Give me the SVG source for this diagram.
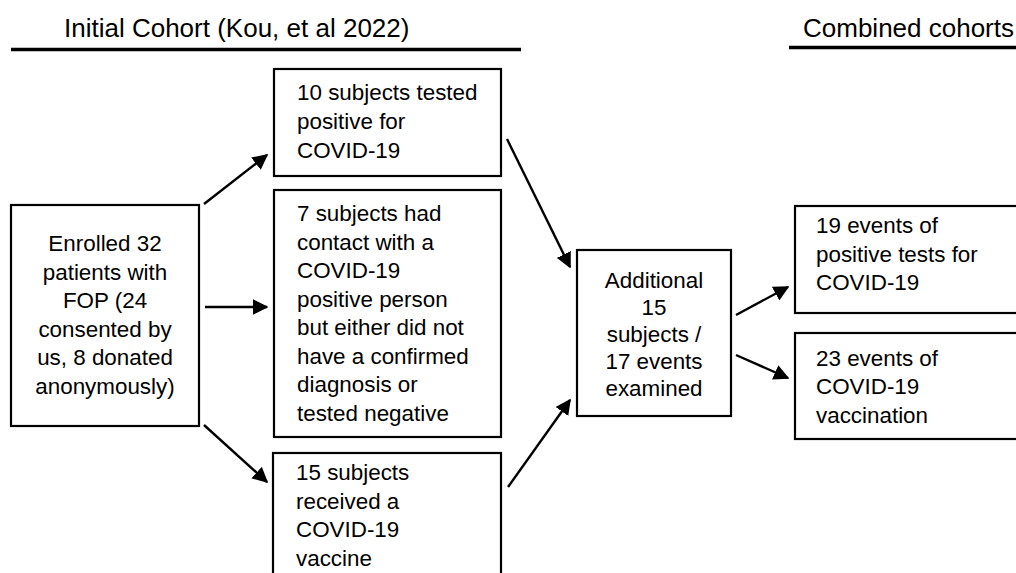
<svg xmlns="http://www.w3.org/2000/svg" width="1016" height="573" viewBox="0 0 1016 573">
<style>
.box{fill:#fff;stroke:#000;stroke-width:2.2}
.t{font-family:"Liberation Sans",Arial,sans-serif;font-size:22.4px;fill:#000}
.c{text-anchor:middle}
.h{font-family:"Liberation Sans",Arial,sans-serif;font-size:26px;fill:#000}
.rule{stroke:#000;stroke-width:3.5}
.arr{stroke:#000;stroke-width:2.4;fill:none;marker-end:url(#ah)}
</style>
<defs>
<marker id="ah" viewBox="0 0 10 10" refX="9" refY="5" markerWidth="6.5" markerHeight="6.5" markerUnits="strokeWidth" orient="auto">
<path d="M0,0 L10,5 L0,10 z" fill="#000"/>
</marker>
</defs>
<rect width="1016" height="573" fill="#fff"/>
<g id="headers">
<text class="h" x="64" y="37">Initial Cohort (Kou, et al 2022)</text>
<line class="rule" x1="11" y1="49.5" x2="521" y2="49.5"/>
<text class="h" x="803" y="37">Combined cohorts</text>
<line class="rule" x1="789" y1="47.5" x2="1016" y2="47.5"/>
</g>
<g id="enrolled">
<rect class="box" x="11" y="205" width="188" height="221"/>
<text class="t c" x="105" y="251">Enrolled 32</text>
<text class="t c" x="105" y="280">patients with</text>
<text class="t c" x="105" y="308">FOP (24</text>
<text class="t c" x="105" y="337">consented by</text>
<text class="t c" x="105" y="365">us, 8 donated</text>
<text class="t c" x="105" y="394">anonymously)</text>
</g>
<g id="tested-positive">
<rect class="box" x="274" y="69" width="227" height="107"/>
<text class="t" x="297" y="100">10 subjects tested</text>
<text class="t" x="297" y="129">positive for</text>
<text class="t" x="297" y="158">COVID-19</text>
</g>
<g id="contact">
<rect class="box" x="274" y="190" width="227" height="247"/>
<text class="t" x="297" y="221">7 subjects had</text>
<text class="t" x="297" y="250">contact with a</text>
<text class="t" x="297" y="278">COVID-19</text>
<text class="t" x="297" y="307">positive person</text>
<text class="t" x="297" y="335">but either did not</text>
<text class="t" x="297" y="364">have a confirmed</text>
<text class="t" x="297" y="392">diagnosis or</text>
<text class="t" x="297" y="421">tested negative</text>
</g>
<g id="vaccine">
<rect class="box" x="273" y="453" width="228" height="130"/>
<text class="t" x="296" y="480">15 subjects</text>
<text class="t" x="296" y="509">received a</text>
<text class="t" x="296" y="537">COVID-19</text>
<text class="t" x="296" y="566">vaccine</text>
</g>
<g id="additional">
<rect class="box" x="577" y="250" width="154" height="166"/>
<text class="t c" x="654" y="288">Additional</text>
<text class="t c" x="654" y="315">15</text>
<text class="t c" x="654" y="342">subjects /</text>
<text class="t c" x="654" y="369">17 events</text>
<text class="t c" x="654" y="396">examined</text>
</g>
<g id="positive-events">
<rect class="box" x="795" y="206" width="230" height="107"/>
<text class="t" x="816" y="233">19 events of</text>
<text class="t" x="816" y="262">positive tests for</text>
<text class="t" x="816" y="290">COVID-19</text>
</g>
<g id="vaccination-events">
<rect class="box" x="795" y="333" width="230" height="106"/>
<text class="t" x="816" y="366">23 events of</text>
<text class="t" x="816" y="394">COVID-19</text>
<text class="t" x="816" y="423">vaccination</text>
</g>
<g id="connectors">
<line class="arr" x1="204" y1="204" x2="267" y2="155"/>
<line class="arr" x1="205" y1="307" x2="267" y2="307"/>
<line class="arr" x1="204" y1="425" x2="267" y2="482"/>
<line class="arr" x1="507" y1="139" x2="570" y2="267"/>
<line class="arr" x1="508" y1="487" x2="570" y2="400"/>
<line class="arr" x1="736" y1="315" x2="788" y2="287"/>
<line class="arr" x1="736" y1="355" x2="788" y2="378"/>
</g>
</svg>
